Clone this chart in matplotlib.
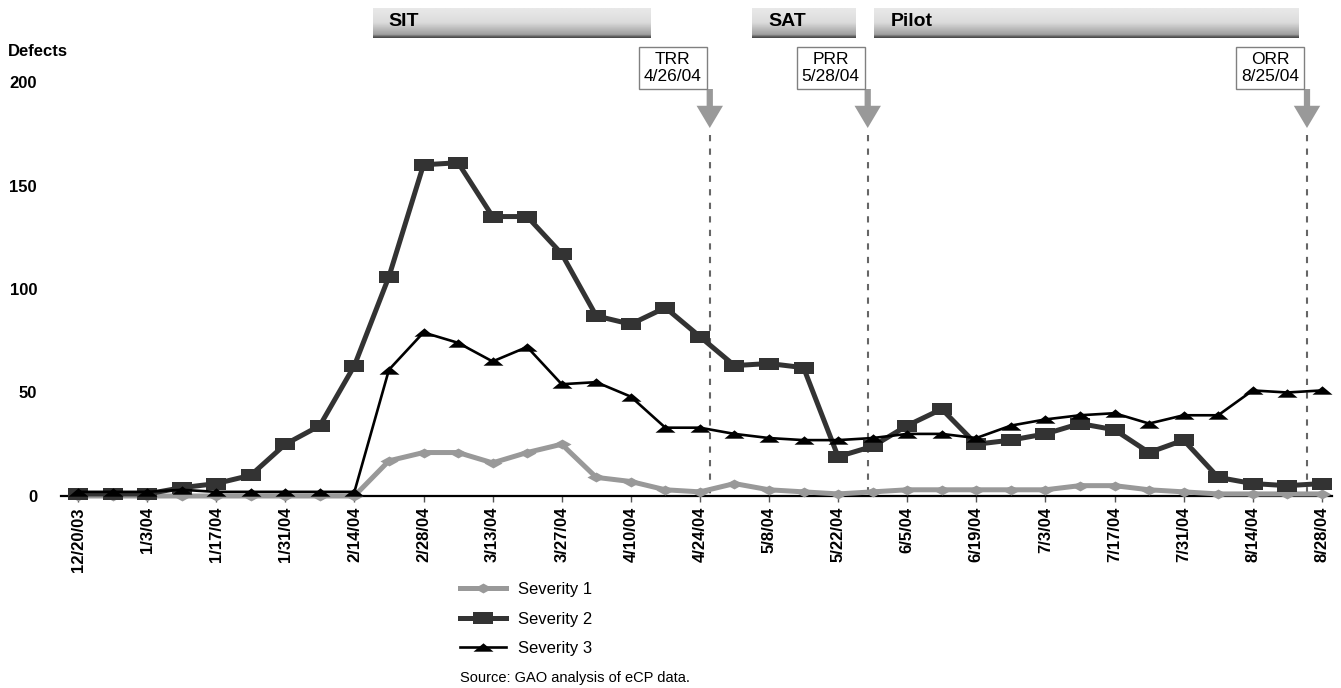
import matplotlib
matplotlib.use("Agg")
import matplotlib.pyplot as plt
import matplotlib.transforms as mtransforms
import matplotlib.patches as mpatches
import numpy as np
import pandas as pd

plt.rcParams['font.family'] = ['Liberation Sans', 'DejaVu Sans']

# ---------------- data ----------------
start_date = pd.Timestamp('2003-12-20')
week_labels = ['12/20/03', '1/3/04', '1/17/04', '1/31/04', '2/14/04', '2/28/04',
               '3/13/04', '3/27/04', '4/10/04', '4/24/04', '5/8/04', '5/22/04',
               '6/5/04', '6/19/04', '7/3/04', '7/17/04', '7/31/04', '8/14/04', '8/28/04']

severity1 = [0, 0, 0, 0, 0, 0, 0, 0, 0, 17, 21, 21, 16, 21, 25, 9, 7, 3, 2,
             6, 3, 2, 1, 2, 3, 3, 3, 3, 3, 5, 5, 3, 2, 1, 1, 1, 1]
severity2 = [1, 1, 1, 4, 6, 10, 25, 34, 63, 106, 160, 161, 135, 135, 117, 87, 83, 91, 77,
             63, 64, 62, 19, 24, 34, 42, 25, 27, 30, 35, 32, 21, 27, 9, 6, 5, 6]
severity3 = [2, 2, 2, 3, 2, 2, 2, 2, 2, 61, 79, 74, 65, 72, 54, 55, 48, 33, 33,
             30, 28, 27, 27, 28, 30, 30, 28, 34, 37, 39, 40, 35, 39, 39, 51, 50, 51]

series_names = ['Severity 1', 'Severity 2', 'Severity 3']

milestone_names = ['TRR', 'PRR', 'ORR']
milestone_dates = ['2004-04-26', '2004-05-28', '2004-08-25']

phase_names = ['SIT', 'SAT', 'Pilot']
# phase bar extents, in weeks after 12/20/03
phase_start = [8.53, 19.52, 23.05]
phase_end = [16.57, 22.53, 35.33]

y_ticks = [0, 50, 100, 150, 200]

# ---------------- figure ----------------
W_PX, H_PX = 1341, 688
fig = plt.figure(figsize=(W_PX / 100, H_PX / 100), dpi=100)

x_week = np.arange(len(severity1))
x0_px, dx_px = 78.0, 34.55
xmin, xmax = -0.5, 36.3
left_px = x0_px + xmin * dx_px
right_px = x0_px + xmax * dx_px
bottom_px, top_px = 496.0, 82.0
ax = fig.add_axes([left_px / W_PX, 1 - bottom_px / H_PX,
                   (right_px - left_px) / W_PX, (bottom_px - top_px) / H_PX])


def fy(py):
    """axes-fraction y for a pixel row measured from the top"""
    return (bottom_px - py) / (bottom_px - top_px)


def to_week(d):
    return (pd.Timestamp(d) - start_date) / pd.Timedelta(days=7)


blend = mtransforms.blended_transform_factory(ax.transData, ax.transAxes)

# markers (wide shapes as in the original)
rect_m = [(-1, -0.62), (1, -0.62), (1, 0.62), (-1, 0.62), (-1, -0.62)]
tri_m = [(-1, -0.42), (1, -0.42), (0, 0.42), (-1, -0.42)]
dia_m = [(-1, 0), (0, 0.55), (1, 0), (0, -0.55), (-1, 0)]

ax.plot(x_week, severity1, color='#999999', lw=3.6, marker=dia_m, ms=13,
        mec='#999999', mfc='#999999', mew=0, clip_on=False, zorder=3,
        label=series_names[0])
ax.plot(x_week, severity2, color='#333333', lw=3.6, marker=rect_m, ms=13.9,
        mec='#333333', mfc='#333333', mew=0, clip_on=False, zorder=4,
        label=series_names[1])
ax.plot(x_week, severity3, color='black', lw=1.9, marker=tri_m, ms=14.4,
        mec='black', mfc='black', mew=0, clip_on=False, zorder=5,
        label=series_names[2])

ax.set_xlim(xmin, xmax)
ax.set_ylim(0, 200)

for s in ['top', 'right', 'left']:
    ax.spines[s].set_visible(False)
ax.spines['bottom'].set_linewidth(1.6)
ax.spines['bottom'].set_color('black')
ax.spines['bottom'].set_zorder(2)

ax.set_xticks(np.arange(0, len(severity1), 2))
ax.set_xticklabels(week_labels, rotation=90, fontweight='bold', fontsize=12)
ax.tick_params(axis='x', length=4, width=1, color='#555555', pad=4)

ax.set_yticks(y_ticks)
ax.set_yticklabels([str(v) for v in y_ticks], fontweight='bold', fontsize=12)
ax.tick_params(axis='y', length=0, pad=17)

fig.text(8 / W_PX, 1 - 52 / H_PX, 'Defects', fontweight='bold', fontsize=12,
         ha='left', va='center')

# milestones
for name, d in zip(milestone_names, milestone_dates):
    xm = to_week(d)
    ax.plot([xm, xm], [fy(135), 0], transform=blend, color='#666666', lw=1.5,
            dashes=(3, 3.5), clip_on=False, zorder=1)
    arr = mpatches.FancyArrowPatch(
        (xm, fy(89)), (xm, fy(128)), transform=blend,
        arrowstyle='simple,head_width=19,head_length=16,tail_width=4.5',
        mutation_scale=1, color='#999999', lw=0, shrinkA=0, shrinkB=0,
        clip_on=False)
    ax.add_patch(arr)
    ts = pd.Timestamp(d)
    label = f"{name}\n{ts.month}/{ts.day}/{ts.strftime('%y')}"
    tr = mtransforms.offset_copy(blend, fig=fig, x=-37, y=0, units='dots')
    ax.text(xm, fy(68), label, transform=tr, ha='center', va='center',
            fontsize=12.5, linespacing=1.2, clip_on=False,
            bbox=dict(boxstyle='square,pad=0.28', fc='white', ec='#808080', lw=1))

# phase bars with gradient
grad = np.concatenate([np.linspace(0.91, 0.86, 14), np.linspace(0.85, 0.62, 12),
                       [0.5, 0.38, 0.3]])[:, None]
for name, xs, xe in zip(phase_names, phase_start, phase_end):
    ax.imshow(grad, cmap='gray', vmin=0, vmax=1, aspect='auto',
              extent=(xs, xe, fy(38), fy(8)), transform=blend,
              clip_on=False, interpolation='bilinear', zorder=1)
    tr = mtransforms.offset_copy(blend, fig=fig, x=16, y=0, units='dots')
    ax.text(xs, fy(22), name, transform=tr, ha='left', va='center',
            fontsize=14, fontweight='bold', clip_on=False)

ax.set_xlim(xmin, xmax)
ax.set_ylim(0, 200)

leg = fig.legend(loc='upper left', bbox_to_anchor=(460 / W_PX, 1 - 582 / H_PX),
                 frameon=False, fontsize=12, handlelength=2.75, handletextpad=0.7,
                 labelspacing=0.88, borderpad=0, borderaxespad=0, numpoints=1)

fig.text(460 / W_PX, 1 - 678 / H_PX, 'Source: GAO analysis of eCP data.',
         fontsize=10.5, ha='left', va='center')

fig.savefig('out.png', dpi=100)
